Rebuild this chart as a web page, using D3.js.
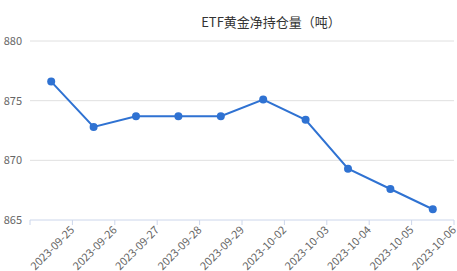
<!DOCTYPE html>
<html>
<head>
<meta charset="utf-8">
<script src="https://cdn.jsdelivr.net/npm/d3@7"></script>
<style>
  body { margin: 0; background: #fff; }
  text { font-family: "Microsoft YaHei", "Noto Sans CJK SC", sans-serif; }
</style>
</head>
<body>
<div id="chart"></div>
<script>
// dates and holdings (tons)
const dates = ['2023-09-25', '2023-09-26', '2023-09-27', '2023-09-28', '2023-09-29',
               '2023-10-02', '2023-10-03', '2023-10-04', '2023-10-05', '2023-10-06']
const holdings = [876.6, 872.8, 873.7, 873.7, 873.7, 875.1, 873.4, 869.3, 867.6, 865.9]
const yTicks = [865, 870, 875, 880]
const title = 'ETF黄金净持仓量（吨）'

const W = 457, H = 271
const dims = { top: 41, right: 3, bottom: 51, left: 30 }
const width = W - dims.left - dims.right
const height = H - dims.top - dims.bottom

const data = dates.map((d, i) => ({ date: d, value: holdings[i] }))

const svg = d3.select('#chart').append('svg')
    .attr('width', W).attr('height', H)

const g = svg.append('g')
    .attr('transform', 'translate(' + dims.left + ',' + dims.top + ')')

const x = d3.scaleBand().domain(dates).range([0, width])
const y = d3.scaleLinear().domain([865, 880]).range([height, 0])

// title
svg.append('text')
    .attr('x', 271).attr('y', 27)
    .attr('text-anchor', 'middle')
    .style('font-size', '13px')
    .attr('fill', '#333')
    .text(title)

// grid lines
g.selectAll('.grid').data(yTicks.slice(1)).join('line')
    .attr('x1', 0).attr('x2', width)
    .attr('y1', d => y(d)).attr('y2', d => y(d))
    .attr('stroke', '#e0e0e0')

// y labels
g.selectAll('.ylab').data(yTicks).join('text')
    .attr('x', -8).attr('y', d => y(d))
    .attr('dy', '0.35em')
    .attr('text-anchor', 'end')
    .style('font-size', '11px')
    .attr('fill', '#666')
    .text(d => d)

// x axis line and ticks at band boundaries
g.append('line')
    .attr('x1', 0).attr('x2', width)
    .attr('y1', height).attr('y2', height)
    .attr('stroke', '#ccd6eb')

const bounds = dates.map(d => x(d)).concat([width])
g.selectAll('.xtick').data(bounds).join('line')
    .attr('x1', d => d).attr('x2', d => d)
    .attr('y1', height).attr('y2', height + 5)
    .attr('stroke', '#ccd6eb')

// x labels rotated
g.selectAll('.xlab').data(dates).join('text')
    .attr('transform', d => 'translate(' + (x(d) + x.bandwidth()) + ',' + (height + 8) + ') rotate(-45)')
    .attr('text-anchor', 'end')
    .attr('dy', '0.35em')
    .style('font-size', '11px')
    .attr('fill', '#666')
    .text(d => d)

// line
const line = d3.line()
    .x(d => x(d.date) + x.bandwidth() / 2)
    .y(d => y(d.value))

g.append('path').datum(data)
    .attr('d', line)
    .attr('fill', 'none')
    .attr('stroke', '#2f72d2')
    .attr('stroke-width', 2)

g.selectAll('.pt').data(data).join('circle')
    .attr('cx', d => x(d.date) + x.bandwidth() / 2)
    .attr('cy', d => y(d.value))
    .attr('r', 4)
    .attr('fill', '#2f72d2')
</script>
</body>
</html>
